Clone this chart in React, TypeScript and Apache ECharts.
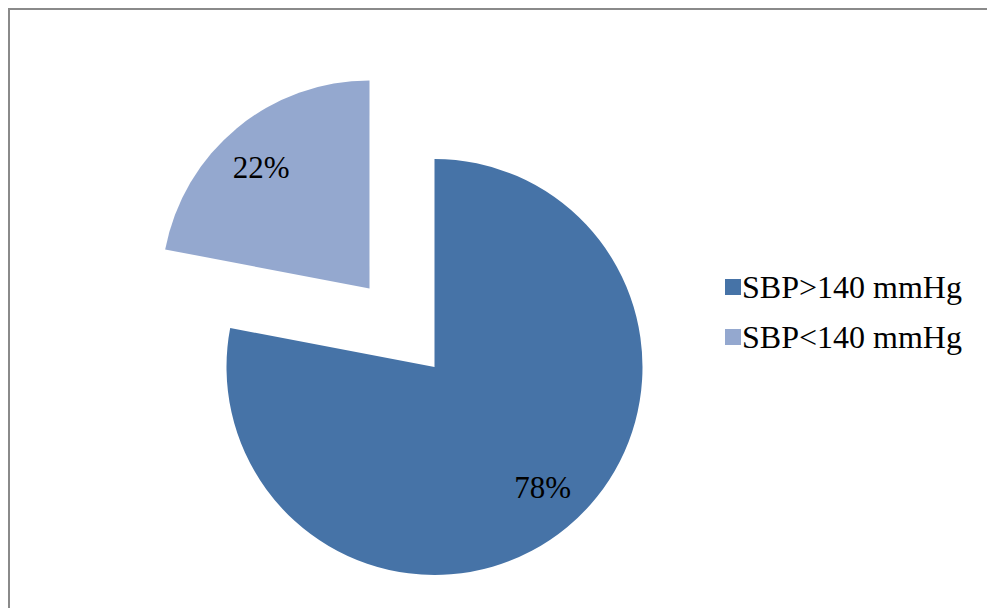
import React, { useEffect, useRef } from "react";
import * as echarts from "echarts";

const categories = ["SBP>140 mmHg", "SBP<140 mmHg"];
const values = [78, 22];
const colors = ["#4673A7", "#94A8CF"];
const explodedIndex = 1;

const SERIF = "'Times New Roman', 'Liberation Serif', Times, serif";

export default function App() {
  const ref = useRef<HTMLDivElement>(null);
  useEffect(() => {
    if (!ref.current) return;
    const chart = echarts.init(ref.current, null, { renderer: "svg" });
    const center = [434.5, 367];
    const R = 208;
    const offset = 102;
    const labelNudge = [
      [5, -4],
      [-5, 4],
    ];
    const baseData = categories.map((name, i) => ({
      name,
      value: values[i],
      selected: i === explodedIndex,
      itemStyle: { color: colors[i] },
    }));
    const labelData = categories.map((name, i) => ({
      name,
      value: values[i],
      selected: i === explodedIndex,
      itemStyle: { color: "rgba(0,0,0,0)" },
    }));
    chart.setOption({
      animation: false,
      backgroundColor: "#ffffff",
      graphic: [
        {
          type: "rect",
          shape: { x: 9, y: 9, width: 1100, height: 800 },
          style: { fill: "none", stroke: "#8a8a8a", lineWidth: 2 },
          silent: true,
        },
      ],
      legend: {
        orient: "vertical",
        left: 720,
        top: 266,
        icon: "rect",
        itemWidth: 16,
        itemHeight: 16,
        itemGap: 18,
        selectedMode: false,
        data: categories.map((name, i) => ({ name, itemStyle: { color: colors[i] } })),
        textStyle: {
          fontFamily: SERIF,
          fontSize: 32,
          color: "#000",
          padding: [0, 0, 0, -4],
        },
      },
      series: [
        {
          type: "pie",
          center,
          radius: [0, R],
          startAngle: 90,
          clockwise: true,
          selectedMode: "single",
          selectedOffset: offset,
          label: { show: false },
          labelLine: { show: false },
          emphasis: { disabled: true },
          silent: true,
          data: baseData,
        },
        {
          type: "pie",
          center,
          radius: [110, R],
          startAngle: 90,
          clockwise: true,
          selectedMode: "single",
          selectedOffset: offset,
          legendHoverLink: false,
          silent: true,
          emphasis: { disabled: true },
          label: {
            show: true,
            position: "inside",
            formatter: (p: any) => p.value + "%",
            fontFamily: SERIF,
            fontSize: 31,
            color: "#000",
          },
          labelLayout: (p: any) => ({
            dx: labelNudge[p.dataIndex][0],
            dy: labelNudge[p.dataIndex][1],
          }),
          labelLine: { show: false },
          data: labelData,
        },
      ],
    });
    return () => chart.dispose();
  }, []);
  return (
    <div
      ref={ref}
      style={{ position: "fixed", left: 0, top: 0, width: 987, height: 608 }}
    />
  );
}
